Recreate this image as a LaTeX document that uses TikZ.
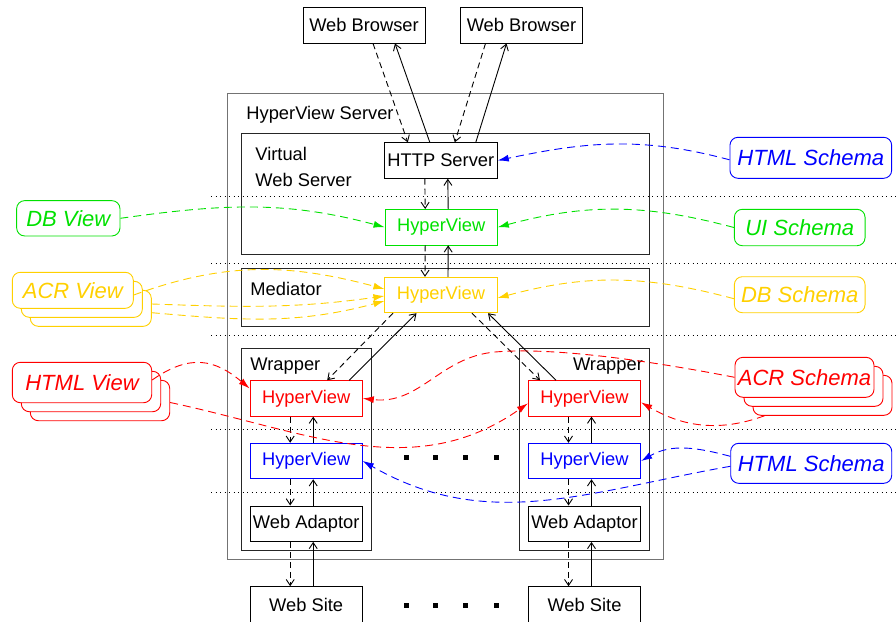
\documentclass[tikz,border=0pt]{standalone}
\usepackage{fontspec}
\setmainfont{Liberation Sans}
\usetikzlibrary{arrows.meta,positioning}
\definecolor{uigreen}{RGB}{0,225,0}
\definecolor{dbyellow}{RGB}{255,208,0}

\begin{document}
\begin{tikzpicture}[x=1pt,y=-1pt,line width=0.9pt,
    >={Straight Barb[length=6pt,width=8pt]},
    font=\fontsize{18.3}{26}\selectfont,
    box/.style={draw,inner sep=0pt,minimum width=112.3pt,minimum height=35.5pt},
    frame/.style={draw=black!85,inner sep=0pt},
    col/.style={draw=#1,text=#1},
    view/.style={draw,rounded corners=8pt,fill=white,inner sep=0pt,
      font=\fontsize{22}{26}\selectfont\itshape},
    req/.style={->,dash pattern=on 6pt off 4pt},
    resp/.style={->},
    link/.style={-{Latex[length=11pt,width=7pt]},dash pattern=on 8pt off 5pt,#1},
    sep/.style={line width=1pt,dash pattern=on 1pt off 3.5pt}]
    \useasboundingbox (0,0) rectangle (896,621);

    %layer separators
    \foreach \y in {196,263.3,335.5,429.3,492.3}
      \draw[sep] (211,\y) -- (896,\y);

    %browsers
    \node[box,minimum width=122pt,minimum height=36pt] (browser_1) at (364,25) {Web Browser};
    \node[box,minimum width=122pt,minimum height=36pt] (browser_2) at (521.5,25) {Web Browser};

    %hyperview server
    \node[frame,draw=black!55,line width=1.4pt,minimum width=436pt,minimum height=466pt] (server) at (445.3,326.3) {};
    \node[anchor=base west,inner sep=0pt] (server_lbl) at (246,119.3) {HyperView Server};

    %virtual web server
    \node[frame,minimum width=408.3pt,minimum height=121pt] (vws) at (445.2,193.8) {};
    \node[anchor=base west,inner sep=0pt,align=left] (vws_lbl) at (255,186) {Virtual\\Web Server};
    \node[box,minimum width=113pt] (http) at (440.8,160.5) {HTTP Server};
    \node[box,col=uigreen] (hv_ui) at (441.2,227.2) {HyperView};

    %mediator
    \node[frame,minimum width=408.3pt,minimum height=57.7pt] (med) at (445.2,297.2) {};
    \node[anchor=base west,inner sep=0pt] (med_lbl) at (250,295) {Mediator};
    \node[box,col=dbyellow] (hv_db) at (441,295) {HyperView};

    %wrapper left
    \node[frame,minimum width=130pt,minimum height=201.7pt] (wrap_l) at (306,449.2) {};
    \node[anchor=base west,inner sep=0pt] (wrap_l_lbl) at (250,370.7) {Wrapper};
    \node[box,col=red] (hv_acr_l) at (306.2,398.4) {HyperView};
    \node[box,col=blue] (hv_html_l) at (306.2,461) {HyperView};
    \node[box] (adaptor_l) at (306.2,523.7) {Web Adaptor};
    \node[box,minimum height=36pt] (site_l) at (306.2,604.7) {Web Site};

    %wrapper right
    \node[frame,minimum width=130pt,minimum height=201.7pt] (wrap_r) at (584.3,449.2) {};
    \node[anchor=base east,inner sep=0pt] (wrap_r_lbl) at (643.3,370.7) {Wrapper};
    \node[box,col=red] (hv_acr_r) at (584.5,398.4) {HyperView};
    \node[box,col=blue] (hv_html_r) at (584.5,461) {HyperView};
    \node[box] (adaptor_r) at (584.5,523.7) {Web Adaptor};
    \node[box,minimum height=36pt] (site_r) at (584.5,604.7) {Web Site};

    %more wrappers
    \foreach \x in {406,435.5,465.5,496} {
      \fill (\x-2.5,454.5) rectangle +(5,5);
      \fill (\x-2.5,603) rectangle +(5,5);
    }

    %schemas right
    \node[view,col=blue,minimum width=161.7pt,minimum height=41pt] (html_s1) at (810.8,157.8) {HTML Schema};
    \node[view,col=uigreen,minimum width=130.7pt,minimum height=36.4pt] (ui_s) at (799.7,227.5) {UI Schema};
    \node[view,col=dbyellow,minimum width=130.7pt,minimum height=36pt] (db_s) at (799.7,294.7) {DB Schema};
    \node[view,col=red,minimum width=139pt,minimum height=40pt] (acr_s3) at (822.5,395.3) {};
    \node[view,col=red,minimum width=139pt,minimum height=40pt] (acr_s2) at (813.5,386.3) {};
    \node[view,col=red,minimum width=139pt,minimum height=40pt] (acr_s) at (804.5,377.3) {ACR Schema};
    \node[view,col=blue,minimum width=161pt,minimum height=40pt] (html_s2) at (811.2,463.3) {HTML Schema};

    %views left
    \node[view,col=uigreen,minimum width=103.3pt,minimum height=35.3pt] (db_v) at (68.3,218.3) {DB View};
    \node[view,col=dbyellow,minimum width=121pt,minimum height=36pt] (acr_v3) at (90.8,308.3) {};
    \node[view,col=dbyellow,minimum width=121pt,minimum height=36pt] (acr_v2) at (81.8,299.3) {};
    \node[view,col=dbyellow,minimum width=121pt,minimum height=36pt] (acr_v) at (72.8,290.3) {ACR View};
    \node[view,col=red,minimum width=139.4pt,minimum height=40.4pt] (html_v3) at (100,400.5) {};
    \node[view,col=red,minimum width=139.4pt,minimum height=40.4pt] (html_v2) at (91,391.5) {};
    \node[view,col=red,minimum width=139.4pt,minimum height=40.4pt] (html_v) at (82,382.5) {HTML View};

    %browsers <-> http server
    \path
    ([xshift=9pt]browser_1.south) edge[req] ([xshift=-33pt]http.north)
    ([xshift=-11pt]http.north) edge[resp] ([xshift=31pt]browser_1.south)
    ([xshift=-36pt]browser_2.south) edge[req] ([xshift=14pt]http.north)
    ([xshift=35pt]http.north) edge[resp] ([xshift=-15pt]browser_2.south);

    %down the layers
    \foreach \a/\b in {http/hv_ui,hv_ui/hv_db,hv_acr_l/hv_html_l,hv_html_l/adaptor_l,adaptor_l/site_l,
                       hv_acr_r/hv_html_r,hv_html_r/adaptor_r,adaptor_r/site_r} {
      \path
      ([xshift=-16pt]\a.south) edge[req] ([xshift=-16pt]\b.north)
      ([xshift=7pt]\b.north) edge[resp] ([xshift=7pt]\a.south);
    }

    %mediator <-> wrappers
    \path
    ([xshift=-48pt]hv_db.south) edge[req] ([xshift=21pt]hv_acr_l.north)
    ([xshift=43pt]hv_acr_l.north) edge[resp] ([xshift=-24.5pt]hv_db.south)
    ([xshift=31pt]hv_db.south) edge[req] ([xshift=-44.5pt]hv_acr_r.north)
    ([xshift=-28.5pt]hv_acr_r.north) edge[resp] ([xshift=47pt]hv_db.south);

    %schemas
    \path
    ([yshift=-2pt]html_s1.west) edge[link=blue,out=165,in=12] (http.east)
    (ui_s.west) edge[link=uigreen,out=165,in=15] (hv_ui.east)
    ([yshift=-4pt]db_s.west) edge[link=dbyellow,out=165,in=15] ([yshift=-3pt]hv_db.east)
    ([xshift=12pt]acr_s3.south west) edge[link=red,out=200,in=-30] ([yshift=-4pt]hv_acr_r.east)
    ([yshift=7pt]html_s2.west) edge[link=blue,out=165,in=30] (hv_html_r.east)
    ([yshift=-3pt]html_s2.west) edge[link=blue,out=190,in=-30] (hv_html_l.east);
    \draw[link=red] (acr_s.west) .. controls (620,355) and (540,348) .. (495,352)
      .. controls (440,357) and (420,405) .. (hv_acr_l.east);

    %views
    \path
    (db_v.east) edge[link=uigreen,out=8,in=165] (hv_ui.west)
    ([yshift=-4.7pt]acr_v.east) edge[link=dbyellow,out=20,in=165] ([yshift=6pt]hv_db.west)
    ([yshift=4.3pt]acr_v3.east) edge[link=dbyellow,out=-2,in=188] ([yshift=-1pt]hv_db.west)
    ([yshift=-4.4pt]acr_v3.east) edge[link=dbyellow,out=-5,in=195] ([yshift=-6pt]hv_db.west)
    ([yshift=2.5pt]html_v.east) edge[link=red,out=35,in=140,looseness=1.2] ([yshift=10pt]hv_acr_l.west)
    ([yshift=-2pt]html_v3.east) edge[link=red,out=-12,in=215] ([yshift=-5pt]hv_acr_r.west);
\end{tikzpicture}
\end{document}
